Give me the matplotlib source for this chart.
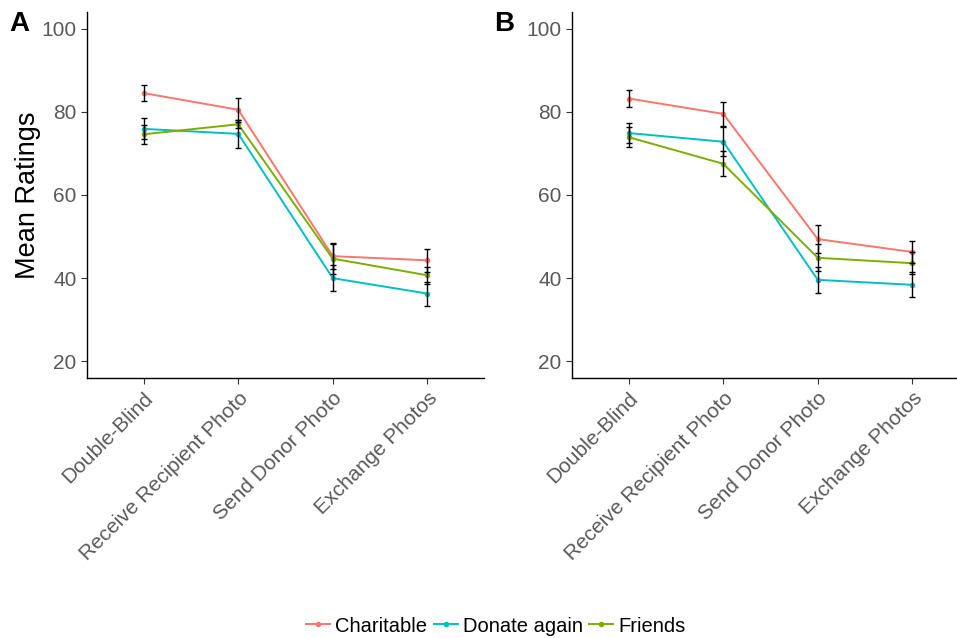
import matplotlib.pyplot as plt

plt.rcParams['font.family'] = ['Liberation Sans', 'DejaVu Sans']

conditions = ["Double-Blind", "Receive Recipient Photo", "Send Donor Photo", "Exchange Photos"]
series_names = ["Charitable", "Donate again", "Friends"]
colors = ["#F8766D", "#00BFC4", "#7CAE00"]

# panel A
a_charitable = [84.5, 80.5, 45.3, 44.3]
a_charitable_se = [2.0, 2.9, 3.0, 2.8]
a_donate = [75.9, 74.7, 40.0, 36.3]
a_donate_se = [2.5, 3.4, 3.1, 2.9]
a_friends = [74.6, 77.0, 44.7, 40.7]
a_friends_se = [2.3, 1.0, 3.7, 2.0]

# panel B
b_charitable = [83.2, 79.5, 49.4, 46.3]
b_charitable_se = [2.0, 2.8, 3.3, 2.7]
b_donate = [74.9, 72.8, 39.6, 38.4]
b_donate_se = [2.5, 3.5, 3.1, 3.0]
b_friends = [73.9, 67.5, 44.9, 43.6]
b_friends_se = [2.4, 3.0, 3.2, 2.6]

panels = [
    ("A", [a_charitable, a_donate, a_friends], [a_charitable_se, a_donate_se, a_friends_se]),
    ("B", [b_charitable, b_donate, b_friends], [b_charitable_se, b_donate_se, b_friends_se]),
]

fig = plt.figure(figsize=(9.57, 6.38), dpi=100)
lefts = [87 / 957, 572 / 957]
grey = "#595959"
x = list(range(len(conditions)))

for (tag, vals, ses), left in zip(panels, lefts):
    ax = fig.add_axes([left, 1 - 378 / 638, 397 / 957, 366 / 638])
    for v, s, c, name in zip(vals, ses, colors, series_names):
        ax.plot(x, v, color=c, lw=1.4, marker="o", ms=3, label=name, zorder=2)
        ax.errorbar(x, v, yerr=s, fmt="none", ecolor="black", elinewidth=1,
                    capsize=2.5, capthick=1, zorder=3)
    ax.set_xlim(-0.6, 3.6)
    ax.set_ylim(16, 104)
    ax.set_yticks([20, 40, 60, 80, 100])
    ax.set_xticks(x)
    ax.set_xticklabels(conditions, rotation=45, ha="right", va="top",
                       rotation_mode="anchor")
    ax.tick_params(axis="both", colors="#333333", labelcolor=grey,
                   labelsize=15, length=4, width=0.8)
    for sp in ["top", "right"]:
        ax.spines[sp].set_visible(False)
    for sp in ["left", "bottom"]:
        ax.spines[sp].set_linewidth(1.0)
    fig.text(left - 78 / 957, 1 - 24 / 638, tag, fontsize=20, fontweight="bold",
             ha="left", va="center")
    if tag == "A":
        ax.set_ylabel("Mean Ratings", fontsize=19.5, labelpad=0)
        handles, labels = ax.get_legend_handles_labels()

fig.legend(handles, labels, loc="center", bbox_to_anchor=(0.518, 1 - 626 / 638),
           ncol=3, frameon=False, fontsize=14.5, handlelength=1.2,
           handletextpad=0.25, columnspacing=0.3)

fig.savefig("out.png", dpi=100)
